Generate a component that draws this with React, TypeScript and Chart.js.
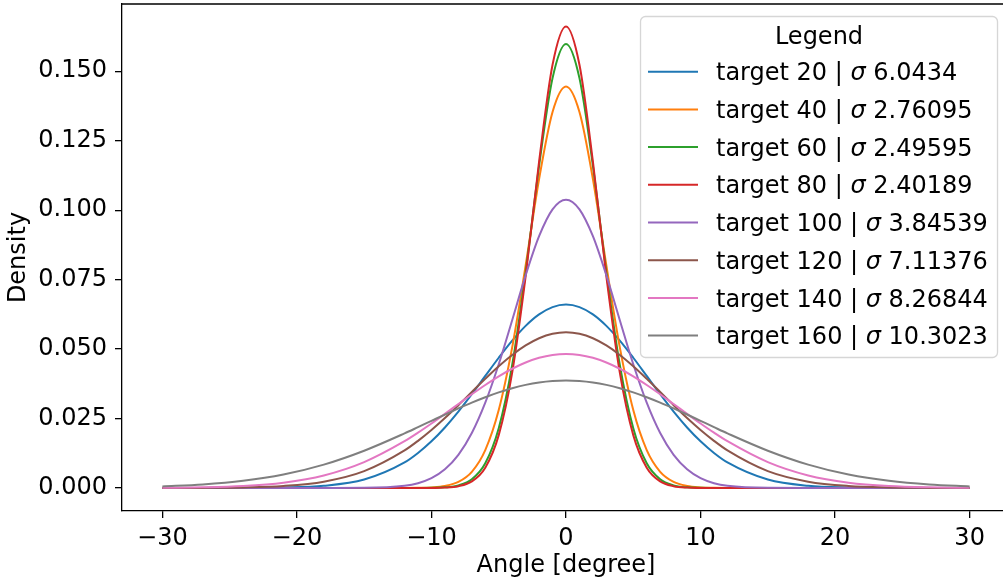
import { useEffect, useRef } from "react";
import { Chart, registerables } from "chart.js";

Chart.register(...registerables);

// ---- Data ----
const X_VALUES = [
  -30, -27, -24, -21, -18, -15, -12, -11, -10, -9, -8, -7, -6, -5, -4, -3, -2, -1,
  0, 1, 2, 3, 4, 5, 6, 7, 8, 9, 10, 11, 12, 15, 18, 21, 24, 27, 30,
];

const TARGETS = [20, 40, 60, 80, 100, 120, 140, 160];
const SIGMA_LABELS = ["6.0434", "2.76095", "2.49595", "2.40189", "3.84539", "7.11376", "8.26844", "10.3023"];
const COLORS = ["#1f77b4", "#ff7f0e", "#2ca02c", "#d62728", "#9467bd", "#8c564b", "#e377c2", "#7f7f7f"];

const DENSITY_T20 = [
  0.0000003, 0.000003, 0.00002, 0.00016, 0.00078, 0.00303,
  0.00919, 0.0126, 0.01679, 0.02178, 0.02748, 0.03375, 0.04033, 0.04688, 0.05303, 0.05836, 0.06249, 0.06511,
  0.06601,
  0.06511, 0.06249, 0.05836, 0.05303, 0.04688, 0.04033, 0.03375, 0.02748, 0.02178, 0.01679, 0.0126, 0.00919,
  0.00303, 0.00078, 0.00016, 0.00002, 0.000003, 0.0000003,
];
const DENSITY_T40 = [
  0, 0, 0, 0, 0, 0,
  0.00001, 0.00005, 0.00021, 0.00071, 0.00217, 0.00581, 0.01363, 0.02803, 0.05059, 0.08007, 0.11115, 0.13532,
  0.14449,
  0.13532, 0.11115, 0.08007, 0.05059, 0.02803, 0.01363, 0.00581, 0.00217, 0.00071, 0.00021, 0.00005, 0.00001,
  0, 0, 0, 0, 0, 0,
];
const DENSITY_T60 = [
  0, 0, 0, 0, 0, 0,
  0, 0.00001, 0.00005, 0.00024, 0.00094, 0.00313, 0.00889, 0.02149, 0.04426, 0.07762, 0.11595, 0.14751,
  0.15984,
  0.14751, 0.11595, 0.07762, 0.04426, 0.02149, 0.00889, 0.00313, 0.00094, 0.00024, 0.00005, 0.00001, 0,
  0, 0, 0, 0, 0, 0,
];
const DENSITY_T80 = [
  0, 0, 0, 0, 0, 0,
  0, 0.000005, 0.00003, 0.00015, 0.00065, 0.00238, 0.00733, 0.01903, 0.04151, 0.07614, 0.11744, 0.15231,
  0.1661,
  0.15231, 0.11744, 0.07614, 0.04151, 0.01903, 0.00733, 0.00238, 0.00065, 0.00015, 0.00003, 0.000005, 0,
  0, 0, 0, 0, 0, 0,
];
const DENSITY_T100 = [
  0, 0, 0, 0, 0.000002, 0.00005,
  0.0008, 0.00173, 0.00353, 0.00671, 0.01192, 0.01979, 0.03071, 0.04455, 0.0604, 0.07653, 0.09063, 0.1003,
  0.10375,
  0.1003, 0.09063, 0.07653, 0.0604, 0.04455, 0.03071, 0.01979, 0.01192, 0.00671, 0.00353, 0.00173, 0.0008,
  0.00005, 0.000002, 0, 0, 0, 0,
];
const DENSITY_T120 = [
  0.000008, 0.00004, 0.00019, 0.00072, 0.00228, 0.00607,
  0.01352, 0.01697, 0.02088, 0.02519, 0.0298, 0.03456, 0.03929, 0.04381, 0.04788, 0.05131, 0.05391, 0.05553,
  0.05608,
  0.05553, 0.05391, 0.05131, 0.04788, 0.04381, 0.03929, 0.03456, 0.0298, 0.02519, 0.02088, 0.01697, 0.01352,
  0.00607, 0.00228, 0.00072, 0.00019, 0.00004, 0.000008,
];
const DENSITY_T140 = [
  0.00007, 0.00023, 0.00071, 0.00192, 0.00451, 0.00931,
  0.01683, 0.01991, 0.02322, 0.02668, 0.03022, 0.03372, 0.03708, 0.04019, 0.04292, 0.04518, 0.04686, 0.0479,
  0.04825,
  0.0479, 0.04686, 0.04518, 0.04292, 0.04019, 0.03708, 0.03372, 0.03022, 0.02668, 0.02322, 0.01991, 0.01683,
  0.00931, 0.00451, 0.00192, 0.00071, 0.00023, 0.00007,
];
const DENSITY_T160 = [
  0.00056, 0.00125, 0.00257, 0.00485, 0.00842, 0.01342,
  0.01965, 0.0219, 0.02417, 0.02644, 0.02864, 0.03074, 0.03268, 0.03442, 0.03591, 0.03711, 0.038, 0.03854,
  0.03872,
  0.03854, 0.038, 0.03711, 0.03591, 0.03442, 0.03268, 0.03074, 0.02864, 0.02644, 0.02417, 0.0219, 0.01965,
  0.01342, 0.00842, 0.00485, 0.00257, 0.00125, 0.00056,
];

const SERIES = [
  DENSITY_T20, DENSITY_T40, DENSITY_T60, DENSITY_T80,
  DENSITY_T100, DENSITY_T120, DENSITY_T140, DENSITY_T160,
];

const X_TICKS = [-30, -20, -10, 0, 10, 20, 30];
const Y_TICKS = [0, 0.025, 0.05, 0.075, 0.1, 0.125, 0.15];

const X_MIN = -33;
const X_MAX = 33;
const Y_MIN = -0.00828;
const Y_MAX = 0.1742;

const FONT = '"DejaVu Sans", sans-serif';
const FS = 24;

const fmtX = (v: number) => (v < 0 ? "\u2212" + Math.abs(v) : String(v));

const framePlugin = {
  id: "topSpine",
  afterDraw(chart: any) {
    const { ctx, chartArea } = chart;
    ctx.save();
    ctx.strokeStyle = "#000";
    ctx.lineWidth = 1.3;
    ctx.beginPath();
    ctx.moveTo(chartArea.left, chartArea.top);
    ctx.lineTo(chartArea.right, chartArea.top);
    ctx.lineTo(chartArea.right, chartArea.bottom);
    ctx.stroke();

    // x tick labels, placed through the x scale
    const xs = chart.scales.x;
    ctx.fillStyle = "#000";
    ctx.font = `${FS}px ${FONT}`;
    ctx.textAlign = "center";
    ctx.textBaseline = "alphabetic";
    X_TICKS.forEach((v) => {
      ctx.fillText(fmtX(v), xs.getPixelForValue(v), chartArea.bottom + 33.5);
    });
    ctx.restore();
  },
};

const legendPlugin = {
  id: "boxLegend",
  afterDraw(chart: any) {
    const ctx = chart.ctx as CanvasRenderingContext2D;
    ctx.save();
    const bx = 640.5, by = 16.5, bw = 357, bh = 341;
    ctx.beginPath();
    (ctx as any).roundRect(bx, by, bw, bh, 5);
    ctx.fillStyle = "rgba(255,255,255,0.8)";
    ctx.fill();
    ctx.strokeStyle = "rgba(204,204,204,0.8)";
    ctx.lineWidth = 1.3;
    ctx.stroke();

    ctx.fillStyle = "#000";
    ctx.textBaseline = "alphabetic";
    ctx.textAlign = "center";
    ctx.font = `${FS}px ${FONT}`;
    ctx.fillText("Legend", bx + bw / 2, 44);

    ctx.textAlign = "left";
    chart.data.datasets.forEach((ds: any, i: number) => {
      const y = 71.7 + i * 37.7;
      ctx.strokeStyle = ds.borderColor;
      ctx.lineWidth = 2;
      ctx.beginPath();
      ctx.moveTo(648, y);
      ctx.lineTo(698, y);
      ctx.stroke();
      const base = y + 8.6;
      let x = 716;
      const head = `target ${TARGETS[i]} | `;
      ctx.font = `${FS}px ${FONT}`;
      ctx.fillText(head, x, base);
      x += ctx.measureText(head).width;
      ctx.font = `italic ${FS}px ${FONT}`;
      ctx.fillText("σ", x, base);
      x += ctx.measureText("σ").width;
      ctx.font = `${FS}px ${FONT}`;
      ctx.fillText(" " + SIGMA_LABELS[i], x, base);
    });
    ctx.restore();
  },
};

export default function App() {
  const canvasRef = useRef<HTMLCanvasElement | null>(null);

  useEffect(() => {
    const canvas = canvasRef.current;
    if (!canvas) return;
    const datasets = SERIES.map((vals, i) => ({
      label: `target ${TARGETS[i]} | σ ${SIGMA_LABELS[i]}`,
      data: X_VALUES.map((x, j) => ({ x, y: vals[j] })),
      borderColor: COLORS[i],
      backgroundColor: COLORS[i],
      borderWidth: 2,
      pointRadius: 0,
      fill: false,
      cubicInterpolationMode: "monotone" as const,
      order: 20 - i,
    }));

    const chart = new Chart(canvas, {
      type: "line",
      data: { datasets },
      plugins: [framePlugin, legendPlugin],
      options: {
        animation: false,
        responsive: false,
        devicePixelRatio: 1,
        layout: { padding: { left: 0, top: 4, right: 10, bottom: 0 } },
        plugins: { legend: { display: false }, tooltip: { enabled: false } },
        scales: {
          x: {
            type: "linear",
            min: X_MIN,
            max: X_MAX,
            afterBuildTicks: (scale: any) => {
              scale.ticks = X_TICKS.map((v) => ({ value: v }));
            },
            afterFit: (scale: any) => {
              scale.height = 72;
              scale.paddingLeft = 0;
              scale.paddingRight = 0;
              scale.paddingTop = 0;
              scale.paddingBottom = 0;
            },
            ticks: {
              display: false,
              color: "#000",
              font: { family: FONT, size: FS },
              maxRotation: 0,
              autoSkip: false,
            },
            grid: { display: true, drawOnChartArea: false, drawTicks: true, tickLength: 7, color: "#000", lineWidth: 1.3 },
            border: { display: true, color: "#000", width: 1.3 },
            title: {
              display: true,
              text: "Angle [degree]",
              color: "#000",
              font: { family: FONT, size: FS },
              padding: { top: 0, bottom: 3 },
            },
          },
          y: {
            type: "linear",
            min: Y_MIN,
            max: Y_MAX,
            afterBuildTicks: (scale: any) => {
              scale.ticks = Y_TICKS.map((v) => ({ value: v }));
            },
            afterFit: (scale: any) => {
              scale.width = 122;
              scale.paddingLeft = 0;
              scale.paddingRight = 0;
              scale.paddingTop = 0;
              scale.paddingBottom = 0;
            },
            ticks: {
              color: "#000",
              font: { family: FONT, size: FS },
              padding: 8,
              autoSkip: false,
              callback: (v: any) => Number(v).toFixed(3),
            },
            grid: { display: true, drawOnChartArea: false, drawTicks: true, tickLength: 7, color: "#000", lineWidth: 1.3 },
            border: { display: true, color: "#000", width: 1.3 },
            title: {
              display: true,
              text: "Density",
              color: "#000",
              font: { family: FONT, size: FS },
              padding: { top: 4, bottom: 0 },
            },
          },
        },
      },
    });
    return () => chart.destroy();
  }, []);

  return (
    <div
      style={{
        position: "absolute",
        left: 0,
        top: 0,
        width: 1003,
        height: 583,
        overflow: "hidden",
        background: "#fff",
      }}
    >
      <canvas ref={canvasRef} width={1020} height={583} style={{ display: "block", width: 1020, height: 583 }} />
    </div>
  );
}
